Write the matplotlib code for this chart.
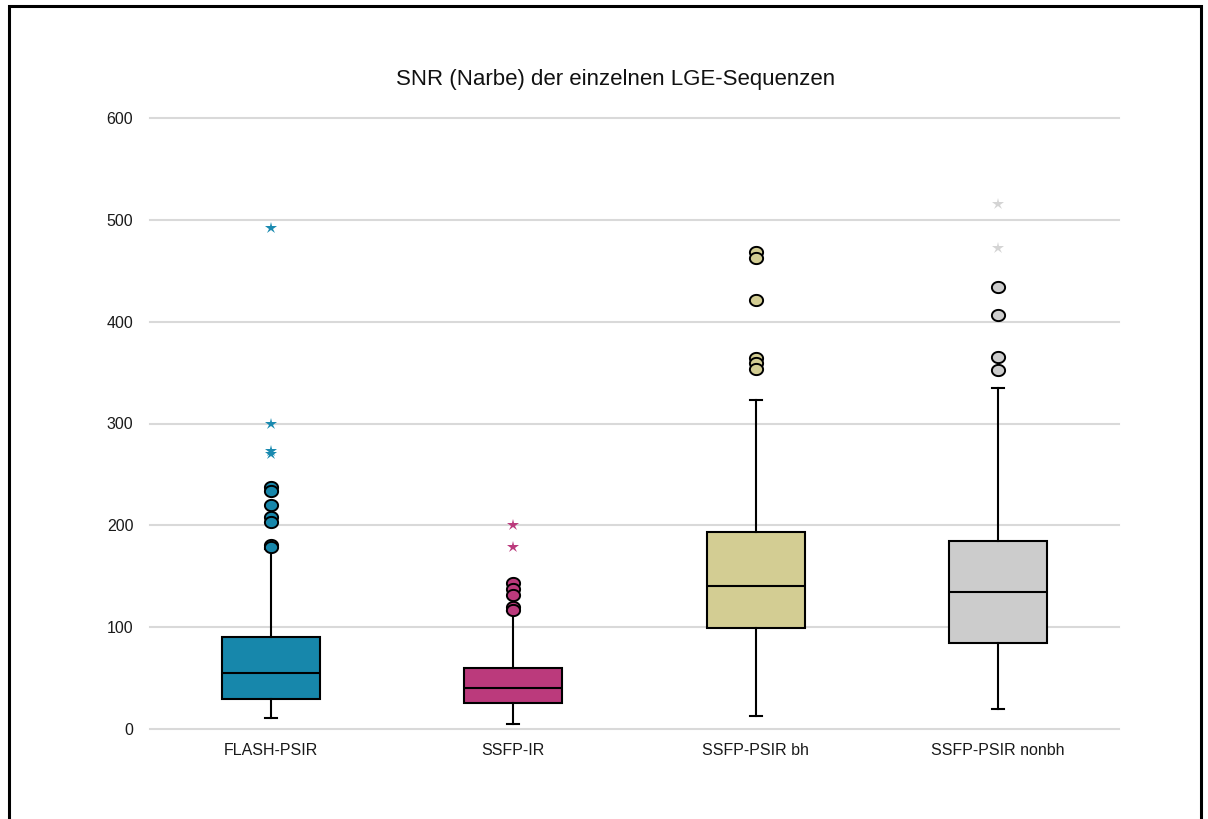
import numpy as np
import matplotlib
matplotlib.use("Agg")
import matplotlib.pyplot as plt
from matplotlib.patches import Rectangle
from matplotlib.path import Path

plt.rcParams['font.family'] = ['Liberation Sans', 'DejaVu Sans']

# ---- data ----
categories = ["FLASH-PSIR", "SSFP-IR", "SSFP-PSIR bh", "SSFP-PSIR nonbh"]
q1 = [29.0, 25.5, 99.5, 84.5]
median = [55.0, 40.0, 140.5, 134.8]
q3 = [90.3, 60.0, 193.7, 184.6]
whisker_low = [10.5, 5.0, 12.5, 19.6]
whisker_high = [177.0, 115.5, 323.5, 334.6]
outliers = [
    [238.0, 234.0, 220.0, 208.5, 203.0, 181.0, 178.5],
    [143.0, 137.0, 132.0, 120.0, 117.0],
    [468.5, 462.5, 421.0, 364.5, 359.0, 353.5],
    [434.0, 406.5, 365.0, 352.5],
]
extremes = [
    [492.0, 300.0, 273.0, 270.0],
    [200.0, 179.0],
    [],
    [515.5, 472.0],
]
yticks = [0, 100, 200, 300, 400, 500, 600]

# ---- styles ----
box_colors = ["#1787ab", "#bb3a7c", "#d3cd93", "#cccccc"]
star_colors = ["#1a8ab0", "#bb3a7c", "#d3cd93", "#d4d4d4"]

W, H = 1208, 819
fig = plt.figure(figsize=(W / 100, H / 100), dpi=100)
ax = fig.add_axes([150 / W, 1 - 729 / H, (1119 - 150) / W, (729 - 118) / H])

stats = []
for i, c in enumerate(categories):
    stats.append(dict(label=c, q1=q1[i], med=median[i], q3=q3[i],
                      whislo=whisker_low[i], whishi=whisker_high[i], fliers=[]))

pos = np.arange(len(categories))
bp = ax.bxp(stats, positions=pos, widths=0.405, patch_artist=True,
            showfliers=False,
            boxprops=dict(linewidth=1.5, edgecolor="black"),
            medianprops=dict(color="black", linewidth=1.5),
            whiskerprops=dict(color="black", linewidth=1.5),
            capprops=dict(color="black", linewidth=1.5),
            capwidths=0.05, zorder=3)
for patch, col in zip(bp["boxes"], box_colors):
    patch.set_facecolor(col)

t = np.linspace(0, 2 * np.pi, 60)
ellipse = Path(np.column_stack([np.cos(t), 0.85 * np.sin(t)]), closed=True)

for i in range(len(categories)):
    if outliers[i]:
        ax.plot([pos[i]] * len(outliers[i]), outliers[i], linestyle="none",
                marker=ellipse, markersize=9.5, markerfacecolor=box_colors[i],
                markeredgecolor="black", markeredgewidth=1.4, zorder=4,
                clip_on=False)
    if extremes[i]:
        ax.plot([pos[i]] * len(extremes[i]), extremes[i], linestyle="none",
                marker="*", markersize=9, color=star_colors[i],
                markeredgewidth=0, zorder=4, clip_on=False)

ax.set_xlim(-0.5, len(categories) - 0.5)
ax.set_ylim(0, 600)
ax.set_yticks(yticks)
ax.set_xticks(pos)
ax.set_xticklabels(categories)
ax.yaxis.grid(True, color="#d9d9d9", linewidth=1.5, zorder=0)
for gl in ax.get_ygridlines():
    gl.set_clip_on(False)
ax.set_axisbelow(True)
for s in ax.spines.values():
    s.set_visible(False)
ax.tick_params(axis="both", length=0, labelsize=11.5, colors="#1a1a1a")
ax.tick_params(axis="y", pad=12)
ax.tick_params(axis="x", pad=10)

fig.text(616 / W, 1 - 80 / H, "SNR (Narbe) der einzelnen LGE-Sequenzen",
         ha="center", va="center", fontsize=16, color="#111111")

fig.patches.append(Rectangle((8.7 / W, -0.1), (1200.5 - 8.7) / W,
                             1.1 - 6.5 / H, transform=fig.transFigure,
                             fill=False, edgecolor="black", linewidth=2.2))

fig.savefig("out.png", dpi=100)
